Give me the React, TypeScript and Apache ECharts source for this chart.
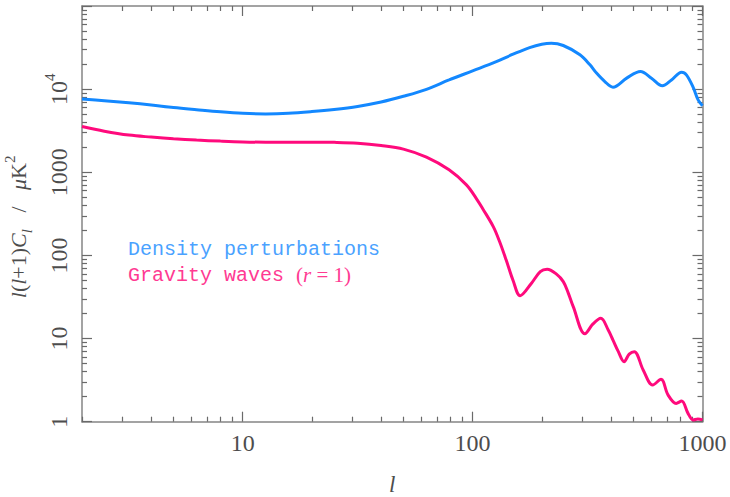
import React, { useEffect, useRef } from "react";
import * as echarts from "echarts";

// Multipole moments l and l(l+1)C_l (μK²) for the two spectra
const densityL = [2, 2.5, 3.2, 4, 5, 6.3, 8, 10, 12.6, 15.8, 20, 25, 31.6, 40, 50, 63, 79, 100, 126, 150, 177, 200, 220, 248, 293, 324, 346, 376, 408, 468, 537, 600, 669, 733, 811, 851, 910, 957, 1000];
const densityCl = [7585, 7250, 6850, 6440, 6000, 5650, 5330, 5120, 5040, 5120, 5370, 5700, 6200, 7000, 8200, 9950, 12900, 16600, 21300, 26300, 31600, 34700, 35700, 33500, 25900, 19600, 15600, 12340, 10570, 13550, 16300, 13550, 10960, 12900, 16000, 14860, 10570, 7430, 6300];

const gravityL = [2, 2.5, 3.2, 4, 5, 6.3, 8, 10, 12.6, 15.8, 20, 25, 31.6, 40, 50, 63, 79, 94, 104, 111, 123, 131, 140, 150, 161, 180, 197, 211, 231, 248, 261, 274, 308, 334, 361, 389, 408, 430, 456, 480, 505, 552, 607, 660, 708, 768, 811, 865, 910, 955, 1000];
const gravityCl = [3550, 3120, 2800, 2650, 2530, 2440, 2370, 2320, 2300, 2300, 2300, 2290, 2240, 2100, 1900, 1520, 1070, 705, 480, 360, 222, 147, 88, 50, 32.8, 46, 63.8, 68.2, 59.9, 48.4, 35, 24.2, 11.4, 15, 17.5, 12.7, 9.6, 7.0, 5.27, 6.5, 6.96, 4.19, 2.76, 3.24, 2.1, 1.66, 1.77, 1.26, 1.05, 1.08, 1.05];

// Tick positions on the log axes
const xMajorTicks = [10, 100, 1000];
const xMinorTicks = [2, 3, 4, 5, 6, 7, 8, 9, 20, 30, 40, 50, 60, 70, 80, 90, 200, 300, 400, 500, 600, 700, 800, 900];
const yMajorTicks = [1, 10, 100, 1000, 10000, 100000];
const yLabelValues = [1, 10, 100, 1000, 10000];
const yMinorTicks = [2, 3, 4, 5, 6, 7, 8, 9, 20, 30, 40, 50, 60, 70, 80, 90, 200, 300, 400, 500, 600, 700, 800, 900, 2000, 3000, 4000, 5000, 6000, 7000, 8000, 9000, 20000, 30000, 40000, 50000, 60000, 70000, 80000, 90000];

const seriesNames = ["Density perturbations", "Gravity waves (r=1)"];

const FRAME = "#858585";
const TICK = "#6a6a6a";
const LABEL = "#4d4d4d";
const SERIF = '"Liberation Serif", "Times New Roman", serif';
const MONO = '"Courier New", Courier, "Nimbus Mono PS", FreeMono, "Liberation Mono", monospace';
const BLUE = "#1388ff";
const PINK = "#ff0a7c";
const BLUE_TEXT = "#4aa2ff";
const PINK_TEXT = "#ff3a92";

function logAxis(
  min: number,
  max: number,
  position: string,
  ticks: number[],
  tickLen: number,
  showLine: boolean,
  extra: any = {}
) {
  return {
    type: "log",
    logBase: 10,
    min,
    max,
    position,
    axisLine: { show: showLine, lineStyle: { color: FRAME, width: 1.5 } },
    axisTick: {
      show: true,
      inside: true,
      length: tickLen,
      customValues: ticks,
      lineStyle: { color: TICK, width: 1.2 },
    },
    axisLabel: { show: false },
    splitLine: { show: false },
    minorTick: { show: false },
    ...extra,
  };
}

export default function App() {
  const ref = useRef<HTMLDivElement>(null);

  useEffect(() => {
    document.body.style.margin = "0";
    if (!ref.current) return;
    const chart = echarts.init(ref.current, undefined, { renderer: "svg" });

    const xMain = logAxis(2, 1000, "bottom", xMajorTicks, 10, true, {
      axisLabel: {
        show: true,
        customValues: xMajorTicks,
        margin: 9,
        fontFamily: SERIF,
        fontSize: 24,
        color: LABEL,
        formatter: (v: number) => String(v),
      },
      name: "l",
      nameLocation: "middle",
      nameGap: 51,
      nameTextStyle: {
        fontFamily: SERIF,
        fontStyle: "italic",
        fontSize: 23,
        color: LABEL,
      },
    });

    const yMain = logAxis(1, 100000, "left", yMajorTicks, 10, true, {
      axisLabel: {
        show: true,
        customValues: yLabelValues,
        rotate: 90,
        margin: 6,
        fontFamily: SERIF,
        fontSize: 24,
        lineHeight: 34,
        color: LABEL,
        formatter: (v: number) => (v >= 10000 ? "{b|10}{s|" + Math.round(Math.log10(v)) + "}" : "{b|" + v + "}"),
        rich: {
          b: { fontFamily: SERIF, fontSize: 24, lineHeight: 34, color: LABEL },
          s: { fontFamily: SERIF, fontSize: 15, lineHeight: 14, verticalAlign: "top", color: LABEL },
        },
      },
      name: "{i|l}{r|(}{i|l}{r|+1)}{i|C}{sub|l}{r|   /   }{i|μ}{r|K}{sup|2}",
      nameLocation: "middle",
      nameRotate: 90,
      nameGap: 34,
      nameTextStyle: {
        fontFamily: SERIF,
        fontSize: 22,
        lineHeight: 32,
        color: LABEL,
        padding: [0, 26, 0, 0],
        rich: {
          i: { fontFamily: SERIF, fontStyle: "italic", fontSize: 22, lineHeight: 32, color: LABEL },
          r: { fontFamily: SERIF, fontSize: 22, lineHeight: 32, color: LABEL },
          sub: { fontFamily: SERIF, fontStyle: "italic", fontSize: 15, lineHeight: 15, verticalAlign: "bottom", color: LABEL },
          sup: { fontFamily: SERIF, fontSize: 15, lineHeight: 15, verticalAlign: "top", color: LABEL },
        },
      },
    });

    const option: any = {
      animation: false,
      backgroundColor: "#ffffff",
      grid: {
        left: 82,
        right: 27.5,
        top: 6,
        bottom: 75.3,
        containLabel: false,
        outerBoundsMode: "none",
      },
      xAxis: [
        xMain,
        logAxis(2, 1000, "bottom", xMinorTicks, 5, false),
        logAxis(2, 1000, "top", xMajorTicks, 10, true),
        logAxis(2, 1000, "top", xMinorTicks, 5, false),
      ],
      yAxis: [
        yMain,
        logAxis(1, 100000, "left", yMinorTicks, 5, false),
        logAxis(1, 100000, "right", yMajorTicks, 10, true),
        logAxis(1, 100000, "right", yMinorTicks, 5, false),
      ],
      series: [
        {
          name: seriesNames[0],
          type: "line",
          xAxisIndex: 0,
          yAxisIndex: 0,
          data: densityL.map((l, i) => [l, densityCl[i]]),
          smooth: 0.35,
          showSymbol: false,
          lineStyle: { color: BLUE, width: 3 },
          itemStyle: { color: BLUE },
        },
        {
          name: seriesNames[1],
          type: "line",
          xAxisIndex: 0,
          yAxisIndex: 0,
          data: gravityL.map((l, i) => [l, gravityCl[i]]),
          smooth: 0.35,
          showSymbol: false,
          lineStyle: { color: PINK, width: 3 },
          itemStyle: { color: PINK },
        },
      ],
      graphic: [
        {
          type: "text",
          left: 128,
          top: 239.5,
          style: {
            text: seriesNames[0],
            font: "20px " + MONO,
            fill: BLUE_TEXT,
          },
        },
        {
          type: "text",
          left: 128,
          top: 264.5,
          style: {
            text: "{m|Gravity waves }{s|(}{si|r}{s|\u2005=\u20051)}",
            fill: PINK_TEXT,
            rich: {
              m: { fontFamily: MONO, fontSize: 20, lineHeight: 20, fill: PINK_TEXT, color: PINK_TEXT },
              s: { fontFamily: SERIF, fontSize: 21, lineHeight: 20, fill: PINK_TEXT, color: PINK_TEXT },
              si: { fontFamily: SERIF, fontStyle: "italic", fontSize: 21, lineHeight: 20, fill: PINK_TEXT, color: PINK_TEXT },
            },
          },
        },
      ],
    };

    chart.setOption(option);
    return () => chart.dispose();
  }, []);

  return <div ref={ref} style={{ width: 730, height: 497 }} />;
}
